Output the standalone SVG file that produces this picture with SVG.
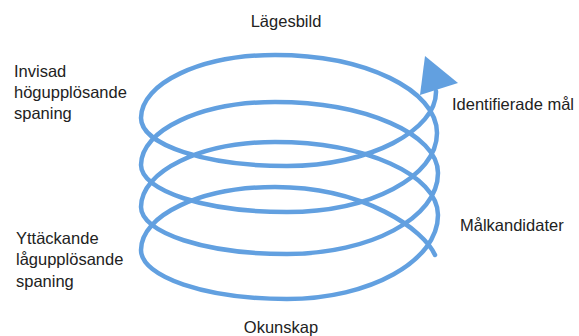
<svg xmlns="http://www.w3.org/2000/svg" width="579" height="336" viewBox="0 0 579 336">
  <style>
    .lbl { font-family: "Liberation Sans", Arial, sans-serif; font-size: 16.5px; fill: #222; }
    .helix { fill: none; stroke: #62a0e0; stroke-width: 4.5; stroke-linecap: round; stroke-linejoin: round; }
    .head { fill: #62a0e0; stroke: none; }
  </style>
  <rect width="579" height="336" fill="#ffffff"/>
  <g id="connectors">
    <path class="helix" d="M435,255 C424,230 365,187 275,187
      C201,187 141,215 141,250
      C141,277 206,299 287,299
      C370,299 438,261 438,215
      C438,175 365,142 275,142
      C201,142 141,171 141,207
      C141,233 206,254 287,254
      C370,254 438,218 438,173
      C438,134 365,102 275,102
      C201,102 141,130 141,165
      C141,191 206,212 287,212
      C370,212 437,177 437,133
      C437,90 365,55 275,55
      C201,55 141,83 141,118
      C141,145 206,166 287,166
      C370,166 437,130 436,91"/>
    <polygon class="head" points="425,56 458,83 420,95"/>
  </g>
  <g id="node-lagesbild"><text class="lbl" x="286" y="27" text-anchor="middle">Lägesbild</text></g>
  <g id="node-invisad">
    <text class="lbl" x="14" y="77">Invisad</text>
    <text class="lbl" x="14" y="98">högupplösande</text>
    <text class="lbl" x="14" y="119">spaning</text>
  </g>
  <g id="node-identifierade"><text class="lbl" x="452" y="110">Identifierade mål</text></g>
  <g id="node-malkandidater"><text class="lbl" x="460" y="231">Målkandidater</text></g>
  <g id="node-yttackande">
    <text class="lbl" x="16" y="244">Yttäckande</text>
    <text class="lbl" x="16" y="265">lågupplösande</text>
    <text class="lbl" x="16" y="287">spaning</text>
  </g>
  <g id="node-okunskap"><text class="lbl" x="281" y="333" text-anchor="middle">Okunskap</text></g>
</svg>
